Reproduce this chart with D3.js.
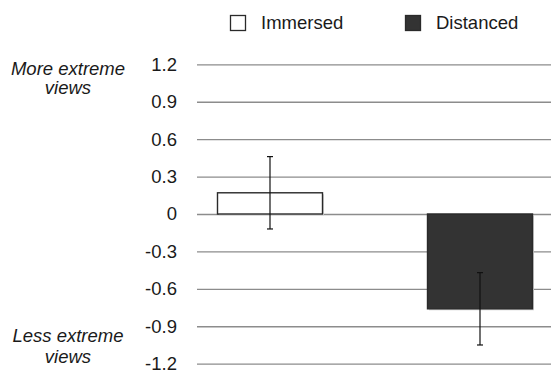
<!DOCTYPE html>
<html>
<head>
<meta charset="utf-8">
<script src="https://cdn.jsdelivr.net/npm/d3@7"></script>
<style>
	body { margin: 0; background: #fff; }
	svg { display: block; font-family: "Liberation Sans", Arial, Helvetica, sans-serif; }
</style>
</head>
<body>
<script>
"use strict";

//chart data
const conditions = ["Immersed", "Distanced"];
const means = [0.17, -0.76];
const errors = [0.29, 0.29];
const tickValues = [1.2, 0.9, 0.6, 0.3, 0, -0.3, -0.6, -0.9, -1.2];
const topLabel = ["More extreme", "views"];
const bottomLabel = ["Less extreme", "views"];

(function()
{
	let width = 551, height = 370;
	let svg = d3.select("body").append("svg")
		.attr("width", width)
		.attr("height", height);

	let y = d3.scaleLinear().domain([-1.2, 1.2]).range([363.7, 64.3]);
	let x = d3.scaleBand().domain(conditions).range([165, 585])
		.paddingInner(0.5).paddingOuter(0.25);
	let fill = d3.scaleOrdinal().domain(conditions).range(["#ffffff", "#333333"]);

	//gridlines and tick labels
	let axis = svg.append("g")
		.attr("transform", "translate(197,0)")
		.call(d3.axisLeft(y)
			.tickValues(tickValues)
			.tickSize(-(width - 197))
			.tickPadding(20)
			.tickFormat(function(d) { return d === 0 ? "0" : d.toFixed(1); }));
	axis.select(".domain").remove();
	axis.selectAll(".tick line")
		.attr("stroke", "#8c8c8c")
		.attr("stroke-width", 1.3);
	axis.selectAll(".tick text")
		.attr("font-size", "18.5px")
		.attr("font-family", "Liberation Sans, Arial, sans-serif")
		.attr("fill", "#1a1a1a");

	//bars
	let rows = conditions.map(function(c, i) { return {cond: c, mean: means[i], err: errors[i]}; });
	let bars = svg.append("g");
	bars.selectAll("rect.shadow").data(rows).enter().append("rect")
		.attr("class", "shadow")
		.attr("x", function(d) { return x(d.cond) + 1.5; })
		.attr("y", function(d) { return Math.min(y(d.mean), y(0)) + 1.5; })
		.attr("width", x.bandwidth())
		.attr("height", function(d) { return Math.abs(y(d.mean) - y(0)); })
		.attr("fill", "#d4d4d4");
	bars.selectAll("rect.bar").data(rows).enter().append("rect")
		.attr("class", "bar")
		.attr("x", function(d) { return x(d.cond); })
		.attr("y", function(d) { return Math.min(y(d.mean), y(0)); })
		.attr("width", x.bandwidth())
		.attr("height", function(d) { return Math.abs(y(d.mean) - y(0)); })
		.attr("fill", function(d) { return fill(d.cond); })
		.attr("stroke", "#2a2a2a")
		.attr("stroke-width", 1.4);

	//error bars
	let eb = svg.append("g").attr("stroke", "#111").attr("stroke-width", 1.2);
	for (let d of rows)
	{
		let cx = x(d.cond) + x.bandwidth() / 2;
		let y1 = y(d.mean + d.err), y2 = y(d.mean - d.err);
		eb.append("line").attr("x1", cx).attr("x2", cx).attr("y1", y1).attr("y2", y2);
		eb.append("line").attr("x1", cx - 3).attr("x2", cx + 3).attr("y1", y1).attr("y2", y1);
		eb.append("line").attr("x1", cx - 3).attr("x2", cx + 3).attr("y1", y2).attr("y2", y2);
	}

	//legend
	let legendX = [230, 405];
	let legend = svg.append("g");
	conditions.forEach(function(c, i)
	{
		legend.append("rect")
			.attr("x", legendX[i] + 0.5)
			.attr("y", 15.5)
			.attr("width", 15)
			.attr("height", 15)
			.attr("fill", fill(c))
			.attr("stroke", "#2a2a2a")
			.attr("stroke-width", 1.3);
		legend.append("text")
			.attr("x", legendX[i] + 31)
			.attr("y", 29)
			.attr("font-size", "18.5px")
			.attr("fill", "#1a1a1a")
			.text(c);
	});

	//side labels
	function sideLabel(lines, baselines)
	{
		lines.forEach(function(t, i)
		{
			svg.append("text")
				.attr("x", 68)
				.attr("y", baselines[i])
				.attr("text-anchor", "middle")
				.attr("font-size", "18.5px")
				.attr("font-style", "italic")
				.attr("fill", "#1a1a1a")
				.text(t);
		});
	}
	sideLabel(topLabel, [75, 94]);
	sideLabel(bottomLabel, [342, 363]);
})();
</script>
</body>
</html>
